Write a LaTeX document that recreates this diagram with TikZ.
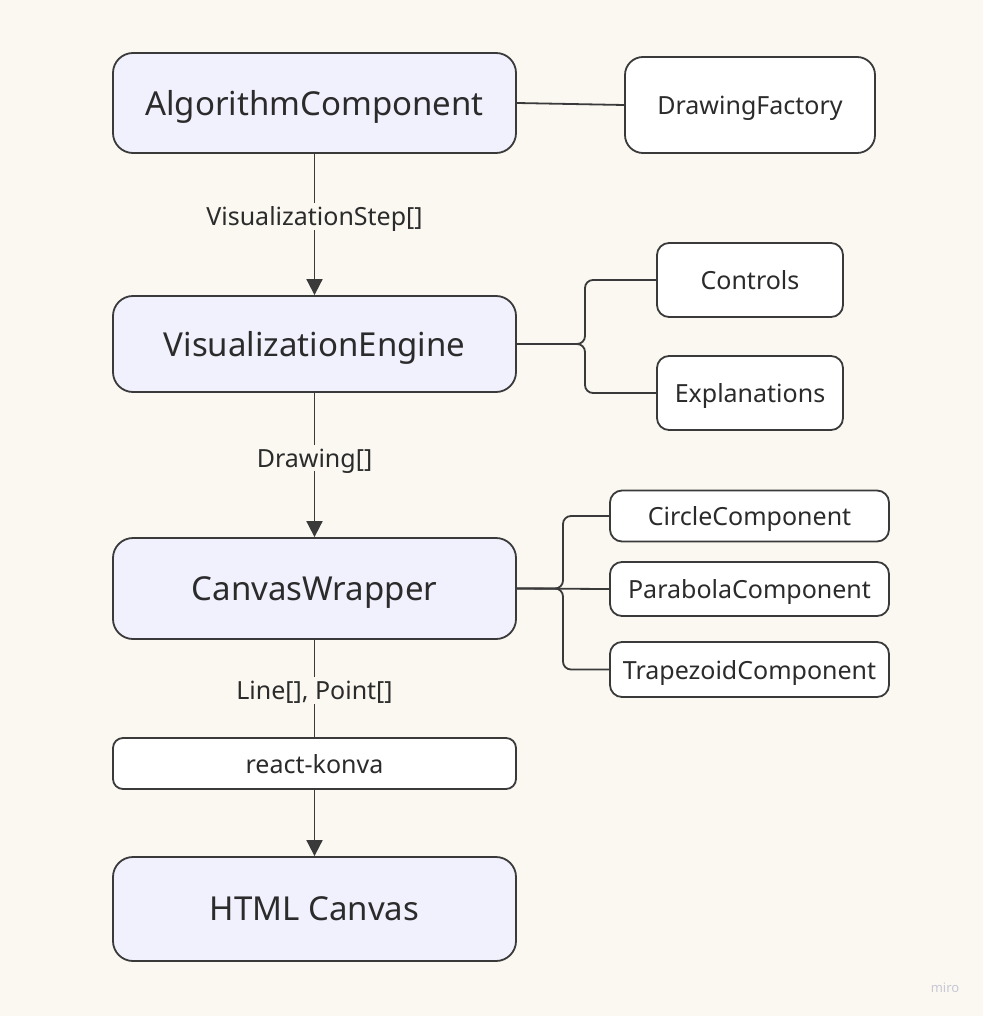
\documentclass[tikz,border=0pt]{standalone}
\usepackage{fontspec}
\setmainfont{Noto Sans}
\usetikzlibrary{arrows.meta}
\definecolor{bg}{HTML}{FAF8F1}
\definecolor{lav}{HTML}{F1F0FD}
\definecolor{ink}{HTML}{3A3A3A}
\definecolor{txt}{HTML}{2B2B2B}
\definecolor{miro}{HTML}{C9C7D6}
\tikzset{
  mainbox/.style={draw=ink, line width=1.8pt, fill=lav, rounded corners=20pt, minimum width=403pt, inner sep=0pt, text=txt, text depth=0pt, font=\fontsize{33}{38}\selectfont},
  sidebox/.style={draw=ink, line width=1.8pt, fill=white, rounded corners=12pt, inner sep=0pt, text=txt, text depth=0pt, font=\fontsize{25}{29}\selectfont},
  conn/.style={draw=ink, line width=1.8pt},
  arr/.style={conn, -{Triangle[length=16pt,width=16pt]}},
  elabel/.style={fill=bg, text=txt, inner sep=4pt, text depth=0pt, font=\fontsize{25}{29}\selectfont},
}
\begin{document}
\begin{tikzpicture}[x=1pt,y=-1pt]
\fill[bg] (0,0) rectangle (983,1016);
\useasboundingbox (0,0) rectangle (983,1016);

\node[mainbox, minimum height=100pt] (alg) at (314.5,103) {AlgorithmComponent};
\node[sidebox, minimum width=250pt, minimum height=96pt, rounded corners=18pt] (df) at (750,105) {DrawingFactory};
\node[mainbox, minimum height=96pt] (ve) at (314.5,344) {VisualizationEngine};
\node[sidebox, minimum width=186pt, minimum height=74pt] (ctl) at (750,280) {Controls};
\node[sidebox, minimum width=186pt, minimum height=74pt] (exp) at (750,393) {Explanations};
\node[mainbox, minimum height=101pt] (cw) at (314.5,588.5) {CanvasWrapper};
\node[sidebox, minimum width=279pt, minimum height=51pt] (cc) at (749.5,516) {CircleComponent};
\node[sidebox, minimum width=279pt, minimum height=54pt] (pc) at (749.5,589) {ParabolaComponent};
\node[sidebox, minimum width=279pt, minimum height=55pt] (tc) at (749.5,669.5) {TrapezoidComponent};
\node[sidebox, minimum width=403pt, minimum height=51pt, rounded corners=10pt] (rk) at (314.5,763.5) {react-konva};
\node[mainbox, minimum height=104pt] (html) at (314.5,909) {HTML Canvas};

\draw[conn] (alg.east) -- (df.west);

\draw[arr] (alg.south) -- (ve.north) node[elabel, pos=0.44] (l1) {VisualizationStep[]};
\draw[arr] (ve.south) -- (cw.north) node[elabel, pos=0.45] (l2) {Drawing[]};
\draw[conn] (cw.south) -- (rk.north) node[elabel, pos=0.52] (l3) {Line[], Point[]};
\draw[arr] (rk.south) -- (html.north);

\draw[conn, rounded corners=8pt] (ve.east) -| (585,320) |- (ctl.west);
\draw[conn, rounded corners=8pt] (ve.east) -| (585,370) |- (exp.west);

\draw[conn, rounded corners=8pt] (cw.east) -| (563,560) |- (cc.west);
\draw[conn] (cw.east) -- (pc.west);
\draw[conn, rounded corners=8pt] (cw.east) -| (563,620) |- (tc.west);

\node[text=miro, font=\fontsize{13}{15}\selectfont\bfseries] (logo) at (945,988) {miro};
\end{tikzpicture}
\end{document}
